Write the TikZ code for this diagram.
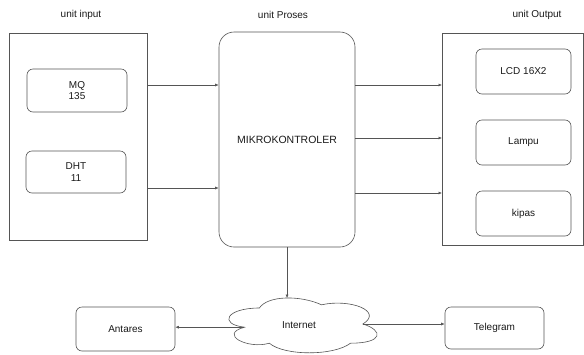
\documentclass[tikz,border=0pt]{standalone}
\usepackage{fontspec}
\setmainfont{Liberation Sans}
\usetikzlibrary{arrows.meta}
\definecolor{edge}{HTML}{555555}
\definecolor{ink}{HTML}{1A1A1A}
\tikzset{
  box/.style={draw=edge, line width=0.6pt, rounded corners=6pt, align=center, text=ink, font=\fontsize{10}{11.5}\selectfont},
  frame/.style={draw=edge, line width=0.6pt},
  arr/.style={draw=edge, line width=0.6pt, -{Latex[length=3.5pt,width=3pt]}},
  title/.style={text=ink, font=\fontsize{10}{11.5}\selectfont},
}
\begin{document}
\begin{tikzpicture}[x=1pt,y=-1pt]
\useasboundingbox (0,0) rectangle (584,354);
\fill[white] (0,0) rectangle (584,354);

% column titles
\node[title] (tin) at (81,15) {unit input};
\node[title] (tpr) at (283,15) {unit Proses};
\node[title] (tout) at (537,15) {unit Output};

% input unit
\draw[frame] (9,33) rectangle (147,240);
\coordinate (inR1) at (147,85);
\coordinate (inR2) at (147,188);
\node[box, minimum width=100pt, minimum height=43pt] (mq) at (77,90.5) {MQ\\135};
\node[box, minimum width=100pt, minimum height=42pt] (dht) at (76,172) {DHT\\11};

% processing unit
\node[box, rounded corners=15pt, minimum width=136pt, minimum height=215pt, font=\fontsize{10.5}{12}\selectfont] (mk) at (287,139.5) {MIKROKONTROLER};

% output unit
\draw[frame] (442,33) rectangle (583,245);
\coordinate (outL1) at (442,85);
\coordinate (outL2) at (442,138);
\coordinate (outL3) at (442,193);
\node[box, minimum width=95pt, minimum height=45pt] (lcd) at (523.5,71.5) {LCD 16X2};
\node[box, minimum width=95pt, minimum height=45pt] (lampu) at (523.5,142.5) {Lampu};
\node[box, minimum width=95pt, minimum height=45pt] (kipas) at (523.5,213.5) {kipas};

% input -> controller
\draw[arr] (inR1) -- (mk.west |- inR1);
\draw[arr] (inR2) -- (mk.west |- inR2);

% controller -> output
\draw[arr] (mk.east |- outL1) -- (outL1);
\draw[arr] (mk.east |- outL2) -- (outL2);
\draw[arr] (mk.east |- outL3) -- (outL3);

% network cloud, drawn in a unit box
\begin{scope}[shift={(218,292)}, x=165.6pt, y=-64pt]
  \draw[draw=edge, line width=0.6pt, fill=white]
    (0.25,0.25) .. controls (0.05,0.25) and (0,0.5) .. (0.16,0.55)
    .. controls (0,0.66) and (0.18,0.9) .. (0.31,0.8)
    .. controls (0.4,1) and (0.7,1) .. (0.8,0.8)
    .. controls (1,0.8) and (1,0.6) .. (0.875,0.5)
    .. controls (1,0.3) and (0.8,0.1) .. (0.625,0.2)
    .. controls (0.5,0.05) and (0.3,0.05) .. (0.25,0.25) -- cycle;
  \coordinate (netL) at (0.16,0.55);
  \coordinate (netR) at (0.875,0.5);
  \coordinate (nettop) at (0.417,0.095);
\end{scope}
\node[text=ink, font=\fontsize{10}{11.5}\selectfont] (net) at (299,325) {Internet};

\node[box, minimum width=99pt, minimum height=44pt] (ant) at (125.5,329) {Antares};
\node[box, minimum width=99pt, minimum height=42pt] (tg) at (494.5,328) {Telegram};

\coordinate (mkb) at (mk.south -| nettop);
\draw[arr] (mkb) -- (nettop);
\draw[arr] (netL) -- (ant.east |- netL);
\draw[arr] (netR) -- (tg.west |- netR);
\end{tikzpicture}
\end{document}
